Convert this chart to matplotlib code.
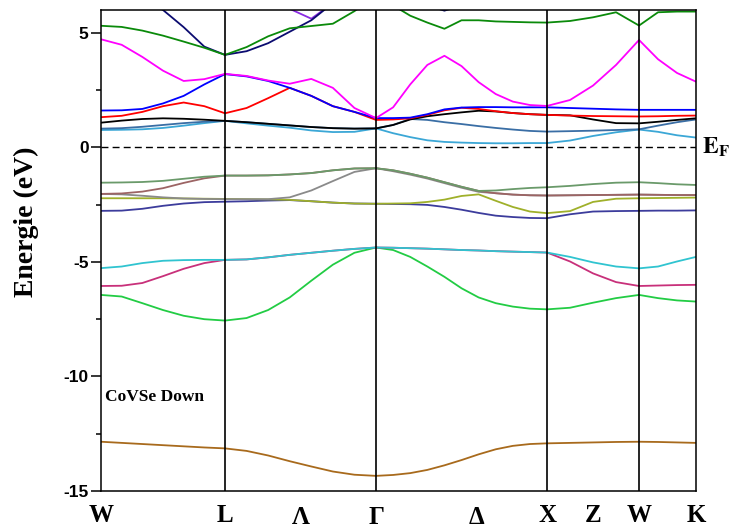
import numpy as np
import matplotlib
matplotlib.use("Agg")
import matplotlib.pyplot as plt
from matplotlib.transforms import blended_transform_factory

plt.rcParams['axes.unicode_minus'] = False
plt.rcParams['mathtext.fontset'] = 'stix'

# high symmetry points along the path (2pi/a)
sym_k = [0.0, 0.714, 1.584, 2.569, 3.099, 3.427]
# sample points per segment W-L, L-G, G-X, X-W, W-K
seg_pts = [6, 7, 10, 4, 3]

k = [sym_k[0]]
for i, n in enumerate(seg_pts):
    k += list(np.linspace(sym_k[i], sym_k[i + 1], n + 1)[1:])
k = np.array(k)

nan = np.nan

# conduction bands (eV)
lightblue = [0.76, 0.77, 0.79, 0.85, 0.95, 1.06, 1.16,
             1.05, 0.95, 0.86, 0.74, 0.67, 0.68, 0.83,
             0.62, 0.45, 0.31, 0.24, 0.21, 0.19, 0.18, 0.18, 0.19, 0.19,
             0.30, 0.50, 0.66, 0.78,
             0.68, 0.53, 0.43]
steel = [0.82, 0.84, 0.90, 0.98, 1.06, 1.12, 1.16,
         1.10, 1.03, 0.96, 0.89, 0.84, 0.82, 0.83,
         0.98, 1.24, 1.20, 1.10, 1.02, 0.93, 0.85, 0.78, 0.72, 0.69,
         0.71, 0.73, 0.76, 0.79,
         0.95, 1.10, 1.22]
black = [1.08, 1.17, 1.24, 1.27, 1.25, 1.21, 1.16,
         1.10, 1.03, 0.96, 0.89, 0.84, 0.82, 0.83,
         0.98, 1.22, 1.36, 1.45, 1.53, 1.60, 1.57, 1.50, 1.45, 1.42,
         1.40, 1.22, 1.06, 1.05,
         1.12, 1.20, 1.27]
red = [1.32, 1.38, 1.55, 1.80, 1.96, 1.80, 1.49,
       1.72, 2.15, 2.60, 2.25, 1.80, 1.55, 1.20,
       1.22, 1.27, 1.42, 1.62, 1.73, 1.68, 1.58, 1.50, 1.45, 1.42,
       1.39, 1.37, 1.36, 1.35,
       1.36, 1.38, 1.39]
blue = [1.61, 1.62, 1.68, 1.92, 2.25, 2.75, 3.20,
        3.10, 2.90, 2.60, 2.25, 1.80, 1.55, 1.28,
        1.28, 1.30, 1.45, 1.66, 1.74, 1.76, 1.76, 1.75, 1.75, 1.75,
        1.72, 1.69, 1.66, 1.64,
        1.64, 1.64, 1.64]
magenta = [4.72, 4.48, 3.95, 3.35, 2.90, 2.98, 3.21,
           3.12, 2.92, 2.78, 2.99, 2.60, 1.72, 1.28,
           1.75, 2.75, 3.60, 4.00, 3.55, 2.85, 2.33, 2.00, 1.85, 1.81,
           2.07, 2.70, 3.60, 4.69,
           3.85, 3.25, 2.87]
green_up = [5.31, 5.26, 5.10, 4.88, 4.62, 4.35, 4.04,
            4.38, 4.85, 5.20, 5.30, 5.40, 5.95, 6.60,
            6.20, 5.75, 5.45, 5.18, 5.55, 5.55, 5.50, 5.48, 5.46, 5.45,
            5.52, 5.68, 5.90, 5.32,
            5.90, 5.93, 5.93]
navy_up = [7.50, 7.00, 6.50, 6.00, 5.25, 4.40, 4.04,
           4.20, 4.55, 5.05, 5.55, 6.30, 6.90, 7.30,
           7.00, 6.60, 6.20, 5.97, 6.20, 6.60, 7.00, 7.20, 7.30, 7.30,
           7.30, 7.30, 7.30, 7.30,
           7.30, 7.30, 7.30]
purple = [nan, nan, nan, nan, nan, nan, 7.60,
          7.20, 6.70, 6.05, 5.62, 6.30, 6.90, 7.30,
          nan, nan, nan, nan, nan, nan, nan, nan, nan, nan,
          nan, nan, nan, nan,
          nan, nan, nan]

# valence bands (eV)
v_green = [-1.54, -1.53, -1.51, -1.46, -1.37, -1.28, -1.23,
           -1.23, -1.22, -1.18, -1.12, -1.00, -0.92, -0.91,
           -1.00, -1.15, -1.32, -1.52, -1.72, -1.90, -1.88, -1.82, -1.77, -1.74,
           -1.68, -1.60, -1.54, -1.52,
           -1.56, -1.61, -1.64]
v_brown = [-2.03, -2.01, -1.93, -1.78, -1.55, -1.35, -1.23,
           -1.23, -1.22, -1.18, -1.12, -1.00, -0.92, -0.91,
           -1.00, -1.15, -1.32, -1.52, -1.72, -1.90, -2.00, -2.06, -2.09, -2.10,
           -2.09, -2.08, -2.07, -2.06,
           -2.07, -2.08, -2.08]
v_gray = [-2.03, -2.05, -2.11, -2.18, -2.23, -2.25, -2.26,
          -2.26, -2.26, -2.18, -1.88, -1.47, -1.07, -0.91,
          -1.04, -1.19, -1.36, -1.56, -1.76, -1.94, -2.00, -2.06, -2.09, -2.10,
          -2.09, -2.08, -2.07, -2.06,
          -2.07, -2.08, -2.08]
v_olive = [-2.22, -2.22, -2.22, -2.22, -2.23, -2.24, -2.25,
           -2.26, -2.27, -2.29, -2.35, -2.41, -2.45, -2.46,
           -2.45, -2.44, -2.38, -2.28, -2.12, -2.05, -2.33, -2.60, -2.80, -2.87,
           -2.78, -2.38, -2.24, -2.22,
           -2.21, -2.20, -2.19]
v_navy = [-2.77, -2.76, -2.68, -2.55, -2.45, -2.39, -2.37,
          -2.35, -2.32, -2.30, -2.35, -2.41, -2.45, -2.46,
          -2.47, -2.48, -2.51, -2.60, -2.72, -2.86, -2.98, -3.04, -3.08, -3.09,
          -2.92, -2.80, -2.78, -2.77,
          -2.76, -2.76, -2.75]
v_cyan = [-5.27, -5.20, -5.05, -4.95, -4.92, -4.91, -4.91,
          -4.89, -4.80, -4.69, -4.60, -4.51, -4.43, -4.37,
          -4.38, -4.40, -4.42, -4.45, -4.48, -4.50, -4.53, -4.55, -4.57, -4.59,
          -4.78, -5.02, -5.20, -5.28,
          -5.20, -4.98, -4.78]
v_pink = [-6.05, -6.04, -5.92, -5.62, -5.30, -5.05, -4.91,
          -4.89, -4.80, -4.69, -4.60, -4.51, -4.43, -4.37,
          -4.38, -4.40, -4.42, -4.45, -4.48, -4.50, -4.53, -4.55, -4.57, -4.59,
          -4.98, -5.50, -5.88, -6.05,
          -6.03, -6.01, -6.00]
v_lime = [-6.44, -6.51, -6.80, -7.10, -7.35, -7.50, -7.56,
          -7.45, -7.10, -6.55, -5.82, -5.12, -4.60, -4.37,
          -4.48, -4.78, -5.20, -5.65, -6.15, -6.55, -6.80, -6.95, -7.04, -7.07,
          -7.00, -6.78, -6.58, -6.44,
          -6.58, -6.68, -6.73]
v_deep = [-12.85, -12.90, -12.95, -13.00, -13.05, -13.10, -13.14,
          -13.25, -13.45, -13.70, -13.93, -14.15, -14.29, -14.34,
          -14.30, -14.22, -14.08, -13.88, -13.65, -13.40, -13.18, -13.03, -12.95, -12.92,
          -12.90, -12.88, -12.86, -12.85,
          -12.86, -12.88, -12.90]

# drawing order matters where bands are degenerate (later on top)
bands = [
    (v_deep, "#a86a1c"),
    (v_lime, "#22cc44"),
    (v_pink, "#c8307a"),
    (v_cyan, "#30c4d0"),
    (v_navy, "#3c3c9c"),
    (v_olive, "#9fb02a"),
    (v_gray, "#8a8a8a"),
    (v_brown, "#9c6464"),
    (v_green, "#6a9a6a"),
    (lightblue, "#3ba7d6"),
    (steel, "#3a6ea5"),
    (black, "#000000"),
    (red, "#ff0000"),
    (blue, "#0000ff"),
    (magenta, "#ff00ff"),
    (purple, "#8b2be2"),
    (navy_up, "#0b0b70"),
    (green_up, "#0a8a0a"),
]

fig = plt.figure(figsize=(7.31, 5.28), dpi=100)
ax = fig.add_axes([0.1382, 0.0701, 0.8139, 0.911])

for vals, col in bands:
    ax.plot(k, vals, color=col, lw=1.3)

for kk in sym_k[1:-1]:
    ax.axvline(kk, color="black", lw=1.2)
ax.axhline(0, color="black", lw=1.0, ls=(0, (5, 3)))

ax.set_xlim(sym_k[0], sym_k[-1])
ax.set_ylim(-15, 6)
ax.set_xticks([])
ax.set_yticks([-15, -10, -5, 0, 5])
ax.set_yticks([-12.5, -7.5, -2.5, 2.5], minor=True)
ax.tick_params(axis="y", which="major", direction="out", length=7, width=1.1, pad=2)
ax.tick_params(axis="y", which="minor", direction="out", length=3.5, width=1.1)
for lab in ax.get_yticklabels():
    lab.set_fontfamily("Liberation Sans")
    lab.set_fontweight("bold")
    lab.set_fontsize(12.5)
for sp in ax.spines.values():
    sp.set_linewidth(1.1)

ax.set_ylabel("Energie (eV)", family="Liberation Serif", weight="bold", fontsize=20)
ax.yaxis.set_label_coords(-0.105, 0.56)

# path labels
path_labels = ["W", "L", "Λ", "Γ", "Δ", "X", "Z", "W", "K"]
path_pos = [sym_k[0], sym_k[1], 0.5 * (sym_k[1] + sym_k[2]), sym_k[2],
            sym_k[2] + 0.59 * (sym_k[3] - sym_k[2]), sym_k[3],
            0.5 * (sym_k[3] + sym_k[4]), sym_k[4], sym_k[5]]
greek = ["Λ", "Γ", "Δ"]
tr = blended_transform_factory(ax.transData, ax.transAxes)
for name, pos in zip(path_labels, path_pos):
    yy = -0.031 if name in greek else -0.027
    ax.text(pos, yy, name, transform=tr, ha="center", va="top",
            family="Liberation Serif", weight="bold", fontsize=18, clip_on=False)

tr2 = blended_transform_factory(ax.transAxes, ax.transData)
ax.text(1.01, 0, r"$\mathbf{E}_{\mathbf{F}}$", transform=tr2, ha="left", va="center",
        fontsize=17)
ax.text(0.006, -10.9, "CoVSe Down", transform=tr2, ha="left", va="center",
        family="Liberation Serif", weight="bold", fontsize=12.5)

fig.savefig("out.png", dpi=100)
